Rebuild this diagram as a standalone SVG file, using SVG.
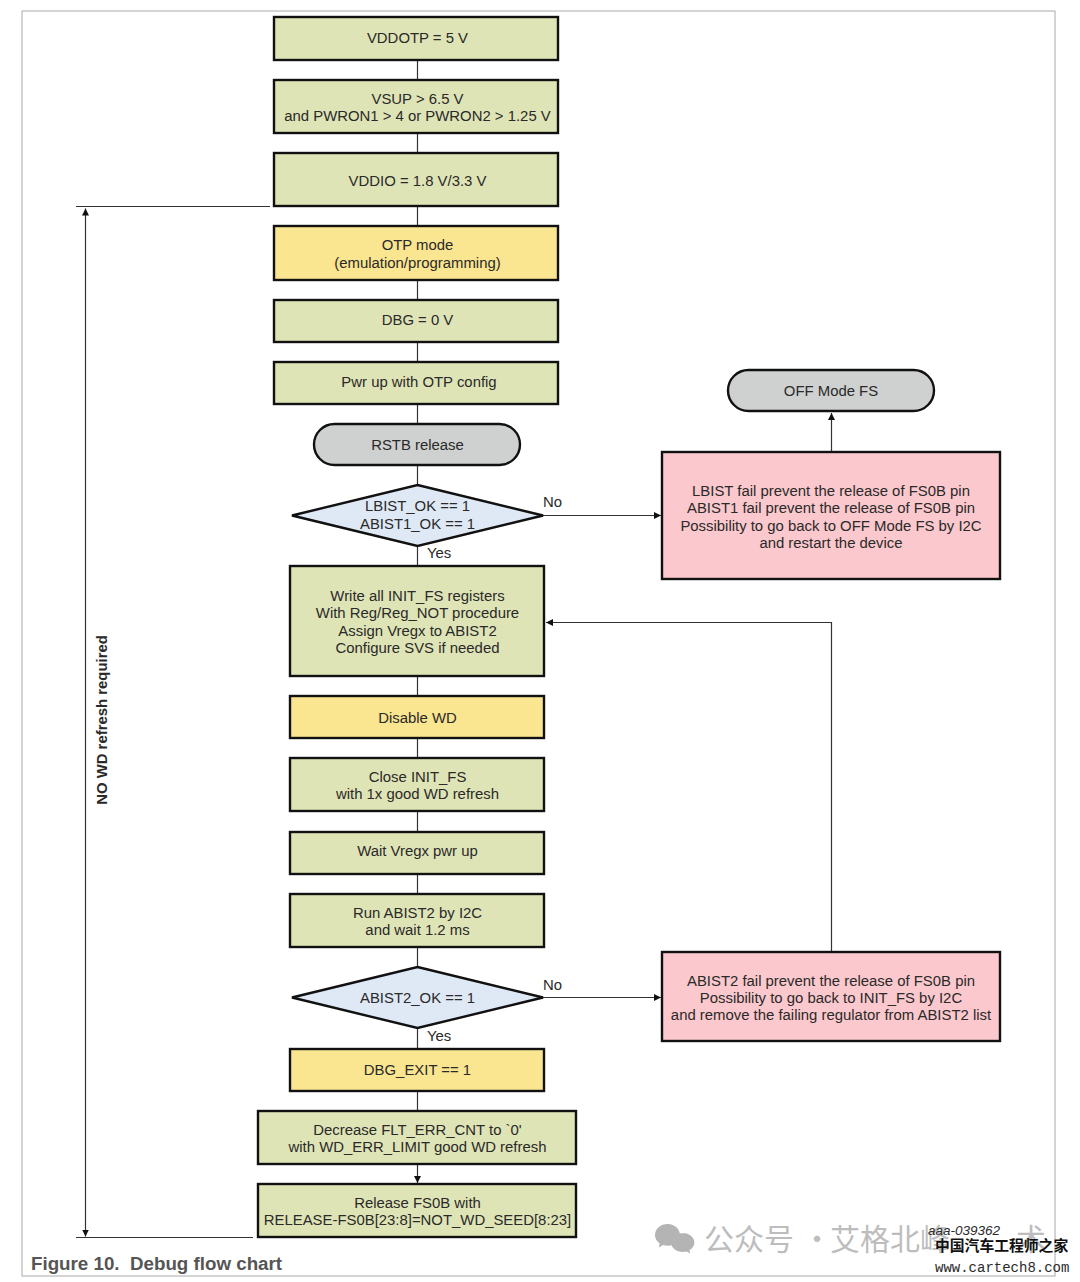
<svg xmlns="http://www.w3.org/2000/svg" width="1080" height="1282" viewBox="0 0 1080 1282">
<style>
text{font-family:"Liberation Sans",Arial,sans-serif;font-size:14.900px;fill:#2a2a2a;text-anchor:middle}
.n{stroke:#111;stroke-width:2.4}
.g{fill:#dfe4b6}.y{fill:#fae590}.s{fill:#cfd1d0}.b{fill:#dfe9f5}.r{fill:#fac8cd}
.c{fill:none;stroke:#333;stroke-width:1.2}
.l{text-anchor:start}
.w{font-family:"Noto Sans CJK SC","Noto Sans",sans-serif;font-size:30px;fill:#bdbdbd;text-anchor:start}
.wi{fill:#b4b4b4}
</style>
<defs><marker id="a" markerUnits="userSpaceOnUse" markerWidth="8" markerHeight="8" refX="7" refY="3.5" orient="auto-start-reverse"><path d="M0 0L7 3.5L0 7Z" fill="#111"/></marker></defs>
<rect x="22" y="11" width="1033" height="1265" fill="#fff" stroke="#aaa" stroke-width="1"/>
<g id="connectors">
<path class="c" d="M417.500 60V81M417.500 133V154M417.500 206V227M417.500 279V300M417.500 342V363M417.500 404V425M417.500 465V485M417.500 546V567M417.500 676V696M417.500 738V758M417.500 811V832M417.500 874V894M417.500 947V967M417.500 1028V1049M417.500 1091V1111"/>
<path class="c" d="M417.500 1164V1183" marker-end="url(#a)"/>
<path class="c" d="M543 515.500H661" marker-end="url(#a)"/>
<path class="c" d="M831.500 451V413" marker-end="url(#a)"/>
<path class="c" d="M543 997.500H661" marker-end="url(#a)"/>
<path class="c" d="M831.500 952V622.500H546" marker-end="url(#a)"/>
<path class="c" d="M76 206.500H270M76 1237.500H253"/>
<path class="c" d="M85.500 208.500V1236.500" marker-start="url(#a)" marker-end="url(#a)"/>
</g>
<g id="n1"><rect class="n g" x="274" y="17" width="284" height="43"/><text x="417.500" y="43">VDDOTP = 5 V</text></g>
<g id="n2"><rect class="n g" x="274" y="80" width="284" height="53"/><text x="417.500" y="104">VSUP &gt; 6.5 V</text><text x="417.500" y="121">and PWRON1 &gt; 4 or PWRON2 &gt; 1.25 V</text></g>
<g id="n3"><rect class="n g" x="274" y="153" width="284" height="53"/><text x="417.500" y="186">VDDIO = 1.8 V/3.3 V</text></g>
<g id="n4"><rect class="n y" x="274" y="226" width="284" height="54"/><text x="417.500" y="250">OTP mode</text><text x="417.500" y="268">(emulation/programming)</text></g>
<g id="n5"><rect class="n g" x="274" y="300" width="284" height="42"/><text x="417.500" y="325">DBG = 0 V</text></g>
<g id="n6"><rect class="n g" x="274" y="362" width="284" height="42"/><text x="419" y="387">Pwr up with OTP config</text></g>
<g id="n7"><rect class="n s" x="314" y="424" width="206" height="41" rx="20.500"/><text x="417.500" y="450">RSTB release</text></g>
<g id="n8"><polygon class="n b" points="417.500,485 543,515.500 417.500,546 292,515.500"/><text x="417.500" y="511">LBIST_OK == 1</text><text x="417.500" y="529">ABIST1_OK == 1</text></g>
<g id="n9"><rect class="n g" x="290" y="566" width="254" height="110"/><text x="417.500" y="601">Write all INIT_FS registers</text><text x="417.500" y="618">With Reg/Reg_NOT procedure</text><text x="417.500" y="636">Assign Vregx to ABIST2</text><text x="417.500" y="653">Configure SVS if needed</text></g>
<g id="n10"><rect class="n y" x="290" y="696" width="254" height="42"/><text x="417.500" y="723">Disable WD</text></g>
<g id="n11"><rect class="n g" x="290" y="758" width="254" height="53"/><text x="417.500" y="782">Close INIT_FS</text><text x="417.500" y="799">with 1x good WD refresh</text></g>
<g id="n12"><rect class="n g" x="290" y="832" width="254" height="42"/><text x="417.500" y="856">Wait Vregx pwr up</text></g>
<g id="n13"><rect class="n g" x="290" y="894" width="254" height="53"/><text x="417.500" y="918">Run ABIST2 by I2C</text><text x="417.500" y="935">and wait 1.2 ms</text></g>
<g id="n14"><polygon class="n b" points="417.500,967 543,997.500 417.500,1028 292,997.500"/><text x="417.500" y="1003">ABIST2_OK == 1</text></g>
<g id="n15"><rect class="n y" x="290" y="1049" width="254" height="42"/><text x="417.500" y="1075">DBG_EXIT == 1</text></g>
<g id="n16"><rect class="n g" x="258" y="1111" width="318" height="53"/><text x="417.500" y="1135">Decrease FLT_ERR_CNT to `0'</text><text x="417.500" y="1152">with WD_ERR_LIMIT good WD refresh</text></g>
<g id="n17"><rect class="n g" x="258" y="1184" width="318" height="53"/><text x="417.500" y="1208">Release FS0B with</text><text x="417.500" y="1225">RELEASE-FS0B[23:8]=NOT_WD_SEED[8:23]</text></g>
<g id="n18"><rect class="n s" x="728" y="370" width="206" height="41" rx="20.500"/><text x="831" y="396">OFF Mode FS</text></g>
<g id="n19"><rect class="n r" x="662" y="452" width="338" height="127"/><text x="831" y="496">LBIST fail prevent the release of FS0B pin</text><text x="831" y="513">ABIST1 fail prevent the release of FS0B pin</text><text x="831" y="531">Possibility to go back to OFF Mode FS by I2C</text><text x="831" y="548">and restart the device</text></g>
<g id="n20"><rect class="n r" x="662" y="952" width="338" height="89"/><text x="831" y="986">ABIST2 fail prevent the release of FS0B pin</text><text x="831" y="1003">Possibility to go back to INIT_FS by I2C</text><text x="831" y="1020">and remove the failing regulator from ABIST2 list</text></g>
<text class="l" x="543" y="507">No</text><text class="l" x="427" y="558">Yes</text><text class="l" x="543" y="990">No</text><text class="l" x="427" y="1041">Yes</text>
<text x="107" y="720" transform="rotate(-90 107 720)" style="font-weight:700">NO WD refresh required</text>
<text class="l" x="31" y="1270" xml:space="preserve" style="font-weight:700;font-size:18.750px;fill:#555">Figure 10.  Debug flow chart</text>
<g id="watermark">
<path class="wi" d="M668 1224c-7.500 0-13 4.800-13 11 0 3.500 1.800 6.500 4.700 8.500l-1 4 4.500-2.400c1.500.4 3 .6 4.800.6 6.500 0 12-4.500 12-10.500 0-6-5.500-11.200-12-11.200Z"/>
<path class="wi" d="M683 1233c-6.500 0-12 4.300-12 9.500 0 5.300 5.500 9.500 12 9.500 1.200 0 2.500-.2 3.600-.5l3.600 2-.8-3.300c3-1.800 5-4.600 5-7.700 0-5.200-5.300-9.500-11.400-9.500Z"/>
<text class="w" x="704" y="1250">公众号</text>
<text class="w" x="802" y="1250">·</text>
<text class="w" x="830" y="1250">艾格北峰</text>
<text class="w" x="1016" y="1250">术</text>
</g>
<text class="l" x="928" y="1235" style="font-style:italic;font-size:13.500px">aaa-039362</text>
<text class="l" x="935" y="1251" style="font-family:'Noto Sans CJK SC',sans-serif;font-weight:700;font-size:14.800px;fill:#111">中国汽车工程师之家</text>
<text class="l" x="935" y="1272" style="font-family:'Liberation Mono',monospace;font-size:14px">www.cartech8.com</text>
</svg>
